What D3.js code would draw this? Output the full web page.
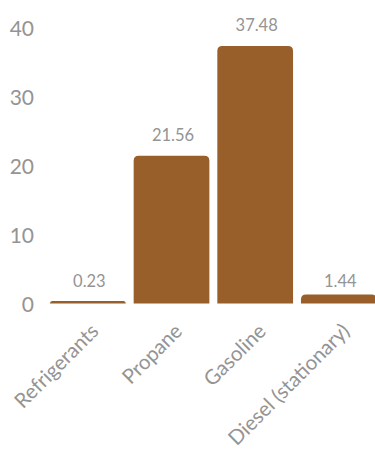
<!DOCTYPE html>
<html>
<head>
<meta charset="utf-8">
<script src="https://cdn.jsdelivr.net/npm/d3@7"></script>
<style>
  html, body { margin: 0; padding: 0; background: #fff; }
  svg { display: block; }
  text { font-family: Lato, "Open Sans", sans-serif; }
</style>
</head>
<body>
<svg id="chart" width="375" height="450"></svg>
<script>
// Emissions by source
const categories = ["Refrigerants", "Propane", "Gasoline", "Diesel (stationary)"];
const values = [0.23, 21.56, 37.48, 1.44];
const yTicks = [0, 10, 20, 30, 40];

const barColor = "#985f2b";
const textColor = "#949494";

const svg = d3.select("#chart");

const x = d3.scaleBand()
  .domain(categories)
  .range([46, 380.7])
  .paddingInner(0.095)
  .paddingOuter(0.048);

const y = d3.scaleLinear()
  .domain([0, 40])
  .range([304.5, 28.5]);

// y axis: labels only, no line or tick marks
const yAxis = d3.axisLeft(y).tickValues(yTicks).tickSize(0).tickPadding(0);
const yg = svg.append("g").attr("transform", "translate(34,0)").call(yAxis);
yg.select(".domain").remove();
yg.selectAll("text")
  .attr("fill", textColor)
  .attr("font-size", 21)
  .attr("font-family", "Lato, sans-serif");

// bars with rounded top corners
function topRounded(x0, y0, w, h, r) {
  r = Math.min(r, w / 2, h);
  return `M${x0},${y0 + h}` +
    `V${y0 + r}` +
    `Q${x0},${y0} ${x0 + r},${y0}` +
    `H${x0 + w - r}` +
    `Q${x0 + w},${y0} ${x0 + w},${y0 + r}` +
    `V${y0 + h}Z`;
}

const base = y(0) - 1;
svg.append("g").selectAll("path")
  .data(categories)
  .join("path")
  .attr("fill", barColor)
  .attr("d", (c, i) => {
    const top = Math.min(y(values[i]), base - 2.5);
    return topRounded(x(c), top, x.bandwidth(), base - top, 5);
  });

// value labels above bars
svg.append("g").selectAll("text")
  .data(categories)
  .join("text")
  .attr("x", c => x(c) + x.bandwidth() / 2 + 1.5)
  .attr("y", (c, i) => values[i] < 5 ? y(0) - 18 : y(values[i]) - 14.5)
  .attr("text-anchor", "middle")
  .attr("fill", textColor)
  .attr("font-size", 16.5)
  .text((c, i) => values[i].toFixed(2));

// rotated category labels
svg.append("g").selectAll("text")
  .data(categories)
  .join("text")
  .attr("transform", c => `translate(${x(c) + x.bandwidth() / 2 + 12},${y(0) + 28}) rotate(-45)`)
  .attr("text-anchor", "end")
  .attr("fill", textColor)
  .attr("font-size", 20.5)
  .text(c => c);
</script>
</body>
</html>
